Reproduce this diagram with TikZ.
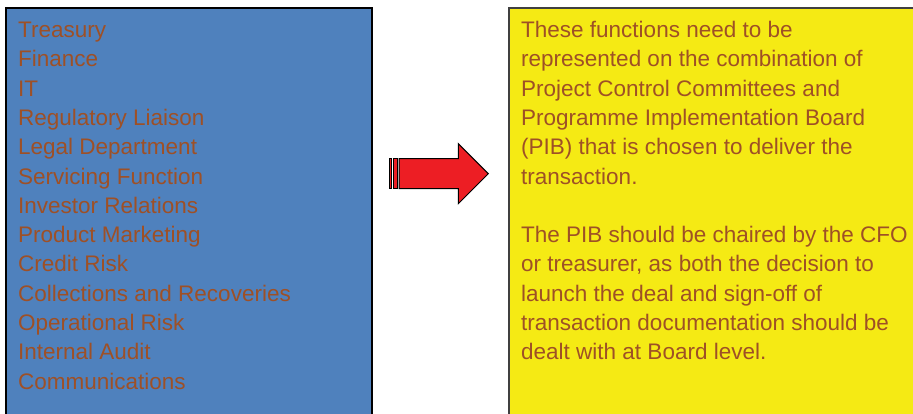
\documentclass[tikz,border=0pt]{standalone}
\usepackage{fontspec}
\setmainfont{Liberation Sans}
\definecolor{boxblue}{RGB}{79,129,189}
\definecolor{boxyellow}{RGB}{245,234,20}
\definecolor{textbrown}{RGB}{158,80,38}
\definecolor{arrowred}{RGB}{237,30,36}

\begin{document}
\begin{tikzpicture}[x=1pt, y=-1pt,
	item/.style={anchor=base west, inner sep=0pt, text=textbrown, font=\fontsize{22.5}{29.3}\selectfont},
	arrowpart/.style={fill=arrowred, draw=black, line width=1pt, line join=miter}]
	\clip (0,0) rectangle (913,413);
	\fill[white] (0,0) rectangle (913,413);
	% the two boxes, both cut by the lower edge
	\draw[fill=boxblue, draw=black, line width=1.5pt] (6,8) rectangle (372,420);
	\draw[fill=boxyellow, draw=black!75, line width=2pt] (509,8) rectangle (920,420);
	% functions
	\foreach \name [count=\i from 0] in {Treasury, Finance, IT, Regulatory Liaison, Legal Department, Servicing Function, Investor Relations, Product Marketing, Credit Risk, Collections and Recoveries, Operational Risk, Internal Audit, Communications}
		\node[item] (func\i) at (18,37.5+29.3*\i) {\name};
	% striped arrow
	\draw[arrowpart] (389.5,158.7) rectangle (391.5,188.7);
	\draw[arrowpart] (393.5,158.7) rectangle (397,188.7);
	\draw[arrowpart] (399,158.7) -- (458.3,158.7) -- (458.3,143.7) -- (488.3,173.7) -- (458.3,203.7) -- (458.3,188.7) -- (399,188.7) -- cycle;
	% note
	\foreach \j/\txt in {0/These functions need to be, 1/represented on the combination of, 2/Project Control Committees and, 3/Programme Implementation Board, 4/(PIB) that is chosen to deliver the, 5/transaction., 7/The PIB should be chaired by the CFO, 8/{or treasurer, as both the decision to}, 9/launch the deal and sign-off of, 10/transaction documentation should be, 11/dealt with at Board level.}
		\node[item] (note\j) at (521,37.5+29.3*\j) {\txt};
\end{tikzpicture}
\end{document}
